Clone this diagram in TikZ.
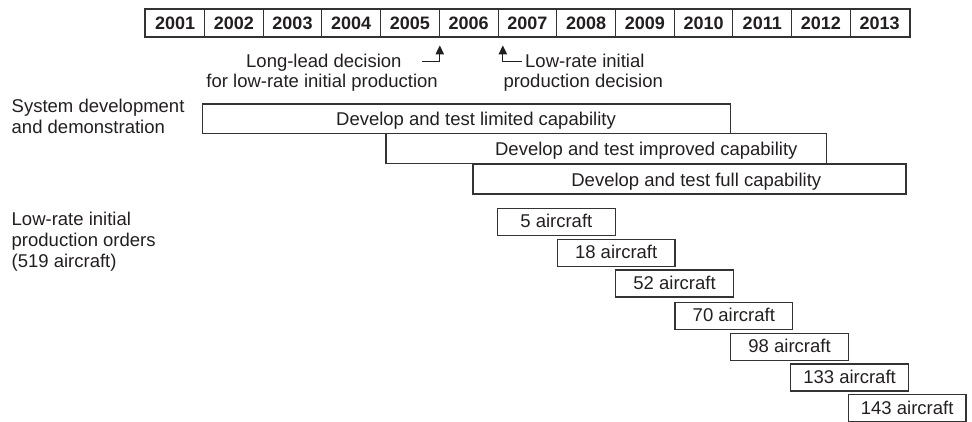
\documentclass[tikz,border=0pt]{standalone}
\usepackage{fontspec}
\setmainfont{Liberation Sans}
\usetikzlibrary{arrows.meta}
\definecolor{ink}{HTML}{231F20}
\definecolor{edge}{HTML}{333333}
\begin{document}
\begin{tikzpicture}[x=1pt,y=-1pt,
  txt/.style={inner sep=0pt, text=ink, font=\fontsize{18.5}{21}\selectfont},
  yearcell/.style={draw=edge, line width=1pt, minimum width=58.72pt, minimum height=27.4pt,
     inner sep=0pt, text=ink, text height=13pt, text depth=0pt,
     font=\bfseries\fontsize{18}{20}\selectfont},
  phasebox/.style={draw=edge, line width=1.1pt, inner sep=0pt},
  lotbox/.style={draw=edge, line width=1.1pt, inner sep=0pt, minimum width=117.7pt,
     minimum height=27pt, text height=13pt, text depth=1pt, text=ink,
     font=\fontsize{18.5}{21}\selectfont},
  conn/.style={draw=ink, line width=1.2pt, -{Triangle[length=9pt,width=8.5pt]}}
]
\useasboundingbox (0,0) rectangle (972,422);

% year bar
\foreach \i in {0,...,12} {
  \pgfmathtruncatemacro\yr{2001+\i}
  \node[yearcell] (y\yr) at ({145.7+58.72*(\i+0.5)},23) {\yr};
}
\draw[edge, line width=2pt] (y2001.north west) rectangle (y2013.south east);

% decision labels and arrows
\node[txt, anchor=base east] (ll1) at (401.7,68) {Long-lead decision};
\node[txt, anchor=base east] (ll2) at (438,87.5) {for low-rate initial production};
\node[txt, anchor=base west] (lr1) at (525,68) {Low-rate initial};
\node[txt, anchor=base west] (lr2) at (503.3,87.5) {production decision};
\coordinate (llfoot) at (421.7,61.5);
\coordinate (lrfoot) at (522,61.5);
\draw[conn] (llfoot) -| ([yshift=-8.3pt]y2005.south east);
\draw[conn] (lrfoot) -| ([xshift=5.3pt,yshift=-8.3pt]y2007.south west);

% left labels (base anchor = last line baseline)
\node[txt, anchor=base west, align=left] (sdd) at (11.5,133.5) {System development\\and demonstration};
\node[txt, anchor=base west, align=left] (lrip) at (11.5,267.5) {Low-rate initial\\production orders\\(519 aircraft)};

% development phases
\node[phasebox, minimum width=528pt, minimum height=29.3pt] (b1) at (466.3,118.7) {};
\node[txt, anchor=base] (t1) at (476,126) {Develop and test limited capability};
\node[phasebox, minimum width=440.7pt, minimum height=30pt] (b2) at (606.3,148.3) {};
\node[txt, anchor=base] (t2) at (646.3,155.7) {Develop and test improved capability};
\node[phasebox, minimum width=433pt, minimum height=30pt] (b3) at (689.5,179) {};
\node[txt, anchor=base] (t3) at (696.3,186.7) {Develop and test full capability};

% production lots
\foreach \l/\t/\n in {497.5/208.3/5, 557.3/239.3/18, 615.7/270/52, 675/302.3/70,
                      730.7/333.3/98, 790.7/364/133, 848.3/394.5/143} {
  \node[lotbox] (a\n) at ({\l+58.85},{\t+13.5}) {\n\ aircraft};
}
\end{tikzpicture}
\end{document}
